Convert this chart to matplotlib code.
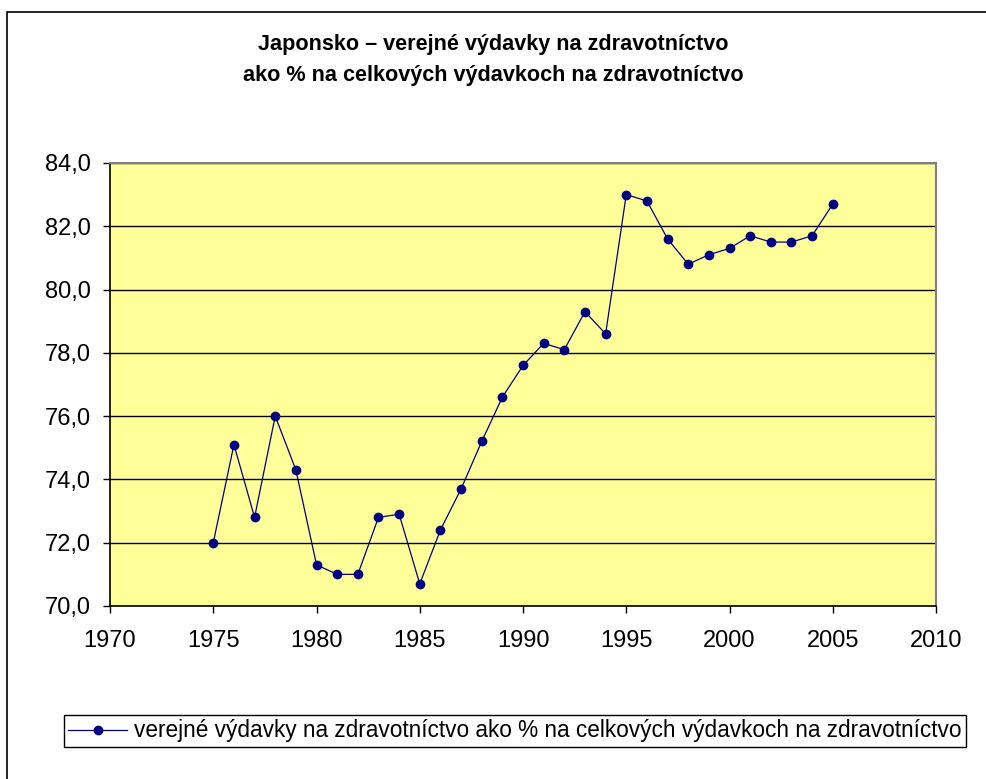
import matplotlib.pyplot as plt
from matplotlib.patches import Rectangle
from matplotlib.ticker import FuncFormatter, MultipleLocator

plt.rcParams["font.family"] = ["Liberation Sans", "DejaVu Sans"]

years = list(range(1975, 2006))
public_share = [72.0, 75.1, 72.8, 76.0, 74.3, 71.3, 71.0, 71.0, 72.8, 72.9,
                70.7, 72.4, 73.7, 75.2, 76.6, 77.6, 78.3, 78.1, 79.3, 78.6,
                83.0, 82.8, 81.6, 80.8, 81.1, 81.3, 81.7, 81.5, 81.5, 81.7,
                82.7]

title = "Japonsko – verejné výdavky na zdravotníctvo\nako % na celkových výdavkoch na zdravotníctvo"
series_label = "verejné výdavky na zdravotníctvo ako % na celkových výdavkoch na zdravotníctvo"

fig = plt.figure(figsize=(9.86, 7.79), dpi=100)
ax = fig.add_axes([0.1116, 0.2221, 0.8377, 0.5687])

# outer chart-area frame (clipped on right/bottom like the original)
fig.patches.append(Rectangle((7 / 986, -0.1), 1.2, 1 - 12 / 779 + 0.1,
                             transform=fig.transFigure, fill=False,
                             edgecolor="black", linewidth=1.2))

ax.set_facecolor("#FFFF99")
line, = ax.plot(years, public_share, color="#000080", linewidth=0.9,
                marker="o", markersize=6, label=series_label)

ax.set_xlim(1970, 2010)
ax.set_ylim(70, 84)
ax.xaxis.set_major_locator(MultipleLocator(5))
ax.yaxis.set_major_locator(MultipleLocator(2))
ax.yaxis.set_major_formatter(FuncFormatter(lambda v, p: f"{v:.1f}".replace(".", ",")))
ax.grid(axis="y", color="black", linewidth=1)
ax.set_axisbelow(True)

for side in ("left", "bottom"):
    ax.spines[side].set_color("black")
    ax.spines[side].set_linewidth(1.2)
for side in ("top", "right"):
    ax.spines[side].set_color("#808080")
    ax.spines[side].set_linewidth(1.5)

ax.tick_params(axis="both", labelsize=17, length=5, width=1, color="black")
ax.tick_params(axis="y", pad=9)
ax.tick_params(axis="x", pad=12)

fig.text(0.5, 1 - 60 / 779, title, ha="center", va="center", fontsize=15.6,
         fontweight="bold", linespacing=1.6)

fig.legend(handles=[line], labels=[series_label], loc="center",
           bbox_to_anchor=(515 / 986, 1 - 731 / 779), fontsize=16.3, frameon=True,
           fancybox=False, edgecolor="black", handlelength=2.6, handletextpad=0.3,
           borderpad=0.2, framealpha=1)

fig.savefig("out.png", dpi=100)
